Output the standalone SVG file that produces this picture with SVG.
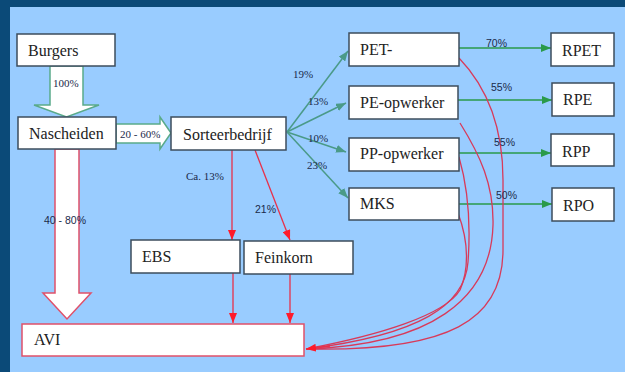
<svg xmlns="http://www.w3.org/2000/svg" width="625" height="372" viewBox="0 0 625 372">
<defs>
<style>
.box{fill:#fff;stroke:#3c4c5c;stroke-width:1.5}
.boxr{fill:#fff;stroke:#e0506a;stroke-width:1.5}
.fan{stroke:#4a9a88;stroke-width:1.5;fill:none;marker-end:url(#mt)}
.gr{stroke:#2a9a4a;stroke-width:1.5;fill:none;marker-end:url(#mg)}
.rd{stroke:#e8304a;stroke-width:1.3;fill:none;marker-end:url(#mr)}
.cv{stroke:#d83a5a;stroke-width:1.3;fill:none}
</style>
<marker id="mt" markerUnits="userSpaceOnUse" markerWidth="10" markerHeight="8" refX="10" refY="4" orient="auto"><path d="M0,0 L10,4 L0,8 Z" fill="#4a9a88"/></marker>
<marker id="mg" markerUnits="userSpaceOnUse" markerWidth="10" markerHeight="8" refX="10" refY="4" orient="auto"><path d="M0,0 L10,4 L0,8 Z" fill="#2a9a4a"/></marker>
<marker id="mr" markerUnits="userSpaceOnUse" markerWidth="10" markerHeight="8" refX="10" refY="4" orient="auto"><path d="M0,0 L10,4 L0,8 Z" fill="#ff1a2a"/></marker>
</defs>
<rect x="0" y="0" width="625" height="372" fill="#0b4a78"/>
<rect x="10" y="7" width="615" height="365" fill="#99ccff"/>

<g id="connectors">
<polygon points="50,66 83,66 83,105 99,105 66.5,117 34,105 50,105" fill="#fff" stroke="#5aaa8a" stroke-width="1.5"/>
<polygon points="116,124 160,124 160,117 171,133 160,149 160,143 116,143" fill="#fff" stroke="#5aaa8a" stroke-width="1.5"/>
<polygon points="55,149 79,149 79,293 91,293 67,319 43,293 55,293" fill="#fff" stroke="#e0506a" stroke-width="1.5"/>
<line class="fan" x1="287" y1="132" x2="348" y2="51"/>
<line class="fan" x1="287" y1="132" x2="346" y2="103"/>
<line class="fan" x1="287" y1="132" x2="346" y2="152"/>
<line class="fan" x1="287" y1="132" x2="348" y2="198"/>
<line class="gr" x1="459" y1="48" x2="551" y2="48"/>
<line class="gr" x1="458" y1="100" x2="552" y2="100"/>
<line class="gr" x1="459" y1="153" x2="551" y2="153"/>
<line class="gr" x1="459" y1="204" x2="552" y2="204"/>
<line class="rd" x1="232" y1="150" x2="232" y2="240"/>
<line class="rd" x1="255" y1="150" x2="290" y2="240"/>
<line class="rd" x1="233" y1="273" x2="233" y2="323"/>
<line class="rd" x1="290" y1="274" x2="290" y2="323"/>
<path class="cv" d="M459,58 C485,85 503,125 503,180 L503,250 C503,320 450,352 306,349"/>
<path class="cv" d="M460,123 C480,155 494,185 493,225 C491,300 430,345 306,349"/>
<path class="cv" d="M459,157 C470,195 470,235 468,262 C465,305 420,335 306,349"/>
<path class="cv" d="M458,213 C470,245 468,272 460,290 C445,315 380,335 306,349"/>
<line class="rd" x1="330" y1="346" x2="306" y2="349"/>
<g font-family="Liberation Serif" font-size="11" fill="#1a2a4a">
<text x="53" y="87">100%</text>
<text x="120" y="138">20 - 60%</text>
<text x="186" y="180">Ca. 13%</text>
<text x="293" y="78">19%</text>
<text x="308" y="105">13%</text>
<text x="308" y="142">10%</text>
<text x="307" y="169">23%</text>
</g>
<g font-family="Liberation Sans" font-size="10.5" fill="#1a2a4a">
<text x="44" y="224">40 - 80%</text>
<text x="255" y="213">21%</text>
<text x="486" y="47">70%</text>
<text x="491" y="91">55%</text>
<text x="494" y="146">55%</text>
<text x="496" y="199">50%</text>
</g>
</g>

<g font-family="Liberation Serif" font-size="16" fill="#222">
<g id="burgers"><rect class="box" x="17" y="34" width="98" height="32"/><text x="28" y="56">Burgers</text></g>
<g id="nascheiden"><rect class="box" x="18" y="117" width="98" height="32"/><text x="29" y="139">Nascheiden</text></g>
<g id="sorteerbedrijf"><rect class="box" x="171" y="117" width="115" height="33"/><text x="183" y="140">Sorteerbedrijf</text></g>
<g id="pet"><rect class="box" x="349" y="33" width="110" height="33"/><text x="360" y="55">PET-</text></g>
<g id="pe"><rect class="box" x="349" y="86" width="109" height="33"/><text x="360" y="108">PE-opwerker</text></g>
<g id="pp"><rect class="box" x="349" y="138" width="110" height="33"/><text x="360" y="159">PP-opwerker</text></g>
<g id="mks"><rect class="box" x="349" y="188" width="110" height="32"/><text x="360" y="209">MKS</text></g>
<g id="rpet"><rect class="box" x="551" y="33" width="63" height="33"/><text x="562" y="56">RPET</text></g>
<g id="rpe"><rect class="box" x="552" y="83" width="62" height="33"/><text x="563" y="105">RPE</text></g>
<g id="rpp"><rect class="box" x="551" y="134" width="63" height="32"/><text x="562" y="157">RPP</text></g>
<g id="rpo"><rect class="box" x="552" y="188" width="62" height="33"/><text x="563" y="211">RPO</text></g>
<g id="ebs"><rect class="box" x="131" y="240" width="109" height="33"/><text x="142" y="262">EBS</text></g>
<g id="feinkorn"><rect class="box" x="244" y="241" width="109" height="33"/><text x="255" y="263">Feinkorn</text></g>
<g id="avi"><rect class="boxr" x="22" y="324" width="282" height="32"/><text x="34" y="345">AVI</text></g>
</g>
</svg>
